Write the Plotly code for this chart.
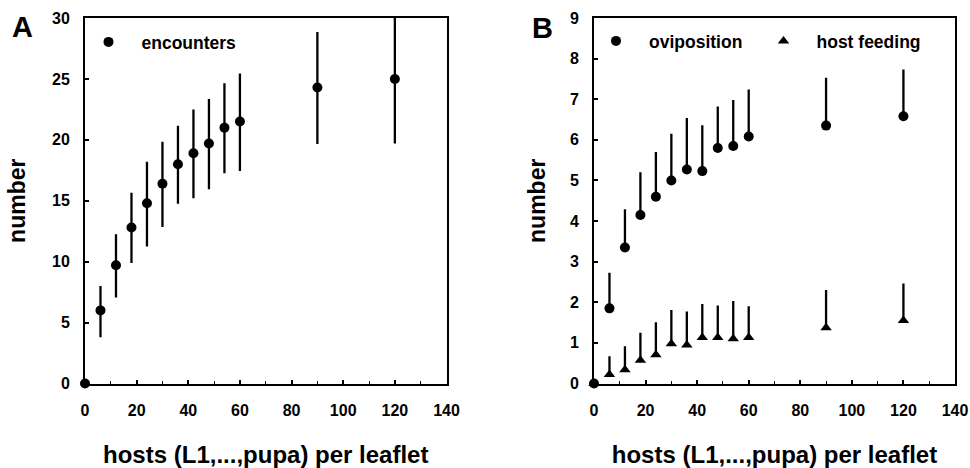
import plotly.graph_objects as go

# host density (hosts per leaflet)
hosts = [0, 6, 12, 18, 24, 30, 36, 42, 48, 54, 60, 90, 120]

# panel A: encounters (mean with spread)
encounters = [0, 6.0, 9.7, 12.8, 14.8, 16.4, 18.0, 18.9, 19.7, 21.0, 21.5, 24.3, 25.0]
enc_err_up = [0, 2.0, 2.55, 2.85, 3.4, 3.45, 3.15, 3.6, 3.65, 3.65, 3.95, 4.55, 5.0]
enc_err_dn = [0, 2.2, 2.65, 2.9, 3.55, 3.55, 3.25, 3.7, 3.75, 3.75, 4.05, 4.65, 5.3]

# panel B: oviposition and host feeding (mean + upper spread)
oviposition = [0, 1.85, 3.35, 4.15, 4.6, 5.0, 5.27, 5.23, 5.8, 5.85, 6.08, 6.35, 6.58]
ovi_err = [0, 0.88, 0.94, 1.05, 1.1, 1.15, 1.27, 1.13, 1.02, 1.13, 1.16, 1.18, 1.15]
host_feeding = [0, 0.22, 0.34, 0.57, 0.71, 0.98, 0.95, 1.13, 1.13, 1.10, 1.13, 1.37, 1.55]
hf_err = [0, 0.45, 0.58, 0.68, 0.80, 0.83, 0.82, 0.83, 0.79, 0.93, 0.77, 0.93, 0.91]
zeros = [0] * len(hosts)

FONT = "Liberation Sans"
W, H = 970, 468

fig = go.Figure()

fig.add_trace(go.Scatter(
    x=hosts, y=encounters, mode="markers", name="encounters", showlegend=True,
    marker=dict(symbol="circle", size=10, color="black"),
    error_y=dict(type="data", symmetric=False, array=enc_err_up, arrayminus=enc_err_dn,
                 color="black", thickness=2.3, width=0),
    cliponaxis=False, xaxis="x", yaxis="y", legend="legend",
))
fig.add_trace(go.Scatter(
    x=hosts, y=oviposition, mode="markers", name="oviposition", showlegend=True,
    marker=dict(symbol="circle", size=10, color="black"),
    error_y=dict(type="data", symmetric=False, array=ovi_err, arrayminus=zeros,
                 color="black", thickness=2.3, width=0),
    cliponaxis=False, xaxis="x2", yaxis="y2", legend="legend2",
))
fig.add_trace(go.Scatter(
    x=hosts, y=host_feeding, mode="markers", name="host feeding", showlegend=True,
    marker=dict(symbol="triangle-up", size=10, color="black"),
    error_y=dict(type="data", symmetric=False, array=hf_err, arrayminus=zeros,
                 color="black", thickness=2.3, width=0),
    cliponaxis=False, xaxis="x2", yaxis="y2", legend="legend3",
))

tickfont = dict(family=FONT, size=16, color="black", weight="bold")
titlefont = dict(family=FONT, size=24, color="black", weight="bold")

def xaxis_cfg(domain, anchor):
    return dict(
        domain=domain, anchor=anchor, range=[0, 140], dtick=20, tick0=0,
        showgrid=False, zeroline=False, showline=True, linecolor="black", linewidth=2,
        mirror=True, ticks="inside", ticklen=4, tickwidth=1.5, tickcolor="black",
        minor=dict(dtick=10, ticks="inside", ticklen=3, tickwidth=1.2, tickcolor="black"),
        tickfont=tickfont, ticklabelstandoff=11,
        title=dict(text="hosts (L1,...,pupa) per leaflet", font=titlefont, standoff=34),
        automargin=False,
    )

def yaxis_cfg(rng, dtick, anchor, standoff):
    return dict(
        domain=[1 - 383.5 / H, 1 - 18 / H], anchor=anchor, range=rng, dtick=dtick, tick0=0,
        showgrid=False, zeroline=False, showline=True, linecolor="black", linewidth=2,
        mirror=True, ticks="inside", ticklen=4, tickwidth=1.5, tickcolor="black",
        tickfont=tickfont, ticklabelstandoff=10,
        title=dict(text="number", font=dict(titlefont, size=23), standoff=standoff),
        automargin=False,
    )

legend_common = dict(
    orientation="h", bgcolor="rgba(0,0,0,0)", borderwidth=0,
    font=dict(family=FONT, size=17.5, color="black", weight="bold"),
    xanchor="left", yanchor="middle", itemclick=False, itemdoubleclick=False,
    itemwidth=56,
)

letter_font = dict(family=FONT, size=29, color="black", weight="bold")

fig.update_layout(
    width=W, height=H,
    margin=dict(l=0, r=0, t=0, b=0),
    paper_bgcolor="white", plot_bgcolor="white",
    showlegend=True,
    xaxis=xaxis_cfg([85 / W, 446.5 / W], "y"),
    yaxis=yaxis_cfg([0, 30], 5, "x", 20),
    xaxis2=xaxis_cfg([594 / W, 955 / W], "y2"),
    yaxis2=yaxis_cfg([0, 9], 1, "x2", 18),
    legend=dict(**legend_common, x=75.5 / W, y=1 - 42 / H),
    legend2=dict(**legend_common, x=583 / W, y=1 - 41 / H),
    legend3=dict(**legend_common, x=750.5 / W, y=1 - 41 / H),
    annotations=[
        dict(text="A", x=22 / W, y=1 - 27 / H, xref="paper", yref="paper", showarrow=False,
             xanchor="center", yanchor="middle", font=letter_font),
        dict(text="B", x=542 / W, y=1 - 28 / H, xref="paper", yref="paper", showarrow=False,
             xanchor="center", yanchor="middle", font=letter_font),
    ],
)

fig.write_html("out.html")
